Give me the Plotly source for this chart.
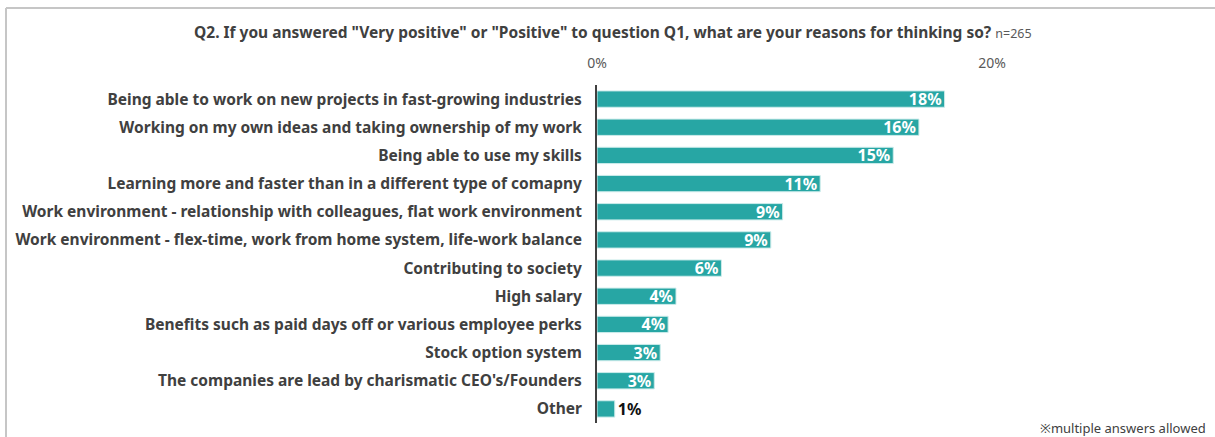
import plotly.graph_objects as go

# Survey reasons (top to bottom) and share of respondents in percent
reasons = [
    "Being able to work on new projects in fast-growing industries",
    "Working on my own ideas and taking ownership of my work",
    "Being able to use my skills",
    "Learning more and faster than in a different type of comapny",
    "Work environment - relationship with colleagues, flat work environment",
    "Work environment - flex-time, work from home system, life-work balance",
    "Contributing to society",
    "High salary",
    "Benefits such as paid days off or various employee perks",
    "Stock option system",
    "The companies are lead by charismatic CEO's/Founders",
    "Other",
]
shares = [17.6, 16.3, 15.0, 11.3, 9.4, 8.8, 6.3, 4.0, 3.6, 3.2, 2.9, 0.9]
tick_values = [0, 20]
tick_labels = ["0%", "20%"]

title_text = ('Q2. If you answered "Very positive" or "Positive" to question Q1, '
              'what are your reasons for thinking so?')
sample_note = "n=265"
footnote = "※multiple answers allowed"

FONT = "Noto Sans"
BAR = "#27a6a4"
TEXT = "#404040"

# Small bars get their label outside the bar
positions = ["inside" if v >= 2 else "outside" for v in shares]

fig = go.Figure(go.Bar(
    x=shares,
    y=reasons,
    orientation="h",
    marker=dict(color=BAR, line=dict(color="#cdeceb", width=1)),
    texttemplate="%{x:.0f}%",
    textposition=positions,
    insidetextanchor="end",
    textangle=0,
    insidetextfont=dict(family=FONT, size=16, color="white", weight="bold"),
    outsidetextfont=dict(family=FONT, size=16, color="#111111", weight="bold"),
    cliponaxis=False,
    hoverinfo="skip",
))

W, H = 1215, 437
L, R, T, B = 597, 223, 85, 14
pw, ph = W - L - R, H - T - B


def px_x(x):
    return (x - L) / pw


def px_y(y):
    return (H - B - y) / ph


fig.update_layout(
    width=W,
    height=H,
    margin=dict(l=L, r=R, t=T, b=B),
    paper_bgcolor="white",
    plot_bgcolor="white",
    bargap=0.42,
    showlegend=False,
    uniformtext=dict(minsize=16, mode="show"),
    font=dict(family=FONT, color=TEXT),
    xaxis=dict(
        side="top",
        range=[0, 20],
        tickvals=tick_values,
        ticktext=tick_labels,
        tickfont=dict(family=FONT, size=14, color="#595959"),
        showgrid=True,
        gridcolor="#d9d9d9",
        gridwidth=1,
        zeroline=False,
        showline=False,
        ticks="",
        ticklabelstandoff=13,
        fixedrange=True,
    ),
    yaxis=dict(
        autorange="reversed",
        showline=True,
        linecolor="#404040",
        linewidth=2,
        showgrid=False,
        ticks="",
        tickfont=dict(family=FONT, size=15.5, color=TEXT, weight="bold"),
        ticklabelstandoff=10,
        fixedrange=True,
    ),
    annotations=[
        dict(
            text=(f"<b>{title_text}</b> "
                  f"<span style='font-size:12.5px;color:#595959'>{sample_note}</span>"),
            xref="paper", yref="paper",
            x=px_x(613), y=px_y(32),
            xanchor="center", yanchor="middle",
            showarrow=False,
            font=dict(family=FONT, size=15.5, color=TEXT),
        ),
        dict(
            text=footnote,
            xref="paper", yref="paper",
            x=px_x(1208), y=px_y(428),
            xanchor="right", yanchor="middle",
            showarrow=False,
            font=dict(family=FONT, size=13, color="#404040"),
        ),
    ],
    shapes=[
        dict(type="line", xref="paper", yref="paper",
             x0=px_x(6), x1=px_x(1230), y0=px_y(8), y1=px_y(8),
             line=dict(color="#c6c6c6", width=2)),
        dict(type="line", xref="paper", yref="paper",
             x0=px_x(6), x1=px_x(6), y0=px_y(8), y1=px_y(450),
             line=dict(color="#c6c6c6", width=2)),
    ],
)

fig.write_html("out.html")
